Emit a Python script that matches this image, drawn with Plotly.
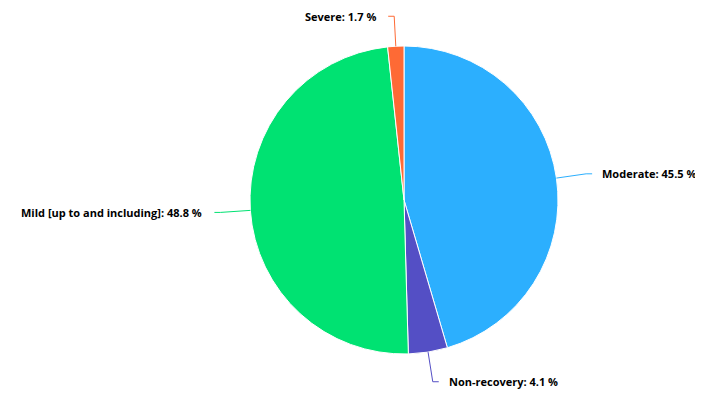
"""Recovery outcome share pie."""

import math

import plotly.graph_objects as go

labels = ["Moderate", "Non-recovery", "Mild [up to and including]", "Severe"]
values = [45.5, 4.1, 48.8, 1.7]
colors = ["#2caffe", "#544fc5", "#00e272", "#fe6a35"]

OFF = 8                     # browser body margin
W, H = 703 - 2 * OFF, 401 - 2 * OFF
CX, CY, R = 404, 200, 154   # pie centre / radius in page pixels
DIST, ELBOW = 30, 6


def px(x, y):
    return (x - OFF) / W, 1 - (y - OFF) / H


fig = go.Figure()

x0, y1 = px(CX - R, CY - R)
x1, y0 = px(CX + R, CY + R)
fig.add_trace(go.Pie(
    labels=labels, values=values,
    sort=False, direction='clockwise', rotation=0,
    marker=dict(colors=colors, line=dict(color='white', width=1)),
    textinfo='none', hoverinfo='skip', showlegend=False,
    domain=dict(x=[x0, x1], y=[y0, y1]),
))

# leader lines + labels, computed from slice mid angles
total = sum(values)
cum = 0
for lab, val, col in zip(labels, values, colors):
    mid = (cum + val / 2) / total * 2 * math.pi
    cum += val
    s, c = math.sin(mid), math.cos(mid)
    ax, ay = CX + R * s, CY - R * c
    bx, by = CX + (R + DIST) * s, CY - (R + DIST) * c
    side = 1 if s >= 0 else -1
    ex = bx + side * ELBOW
    pts = [px(ax, ay), px(bx, by), px(ex, by)]
    path = "M {} {} L {} {} L {} {}".format(*[v for p in pts for v in p])
    fig.add_shape(type='path', path=path, xref='paper', yref='paper',
                  line=dict(color=col, width=1))
    gap = 8 if side > 0 else 10
    tx, ty = px(ex + side * gap, by)
    fig.add_annotation(
        x=tx, y=ty, xref='paper', yref='paper',
        text=f"<b>{lab}: {val} %</b>", showarrow=False,
        xanchor='left' if side > 0 else 'right', yanchor='middle',
        font=dict(family="Open Sans", size=11, color='#000000'),
    )

fig.update_layout(
    width=W, height=H,
    margin=dict(l=0, r=0, t=0, b=0),
    paper_bgcolor='white', plot_bgcolor='white',
)

fig.write_html("out.html")
